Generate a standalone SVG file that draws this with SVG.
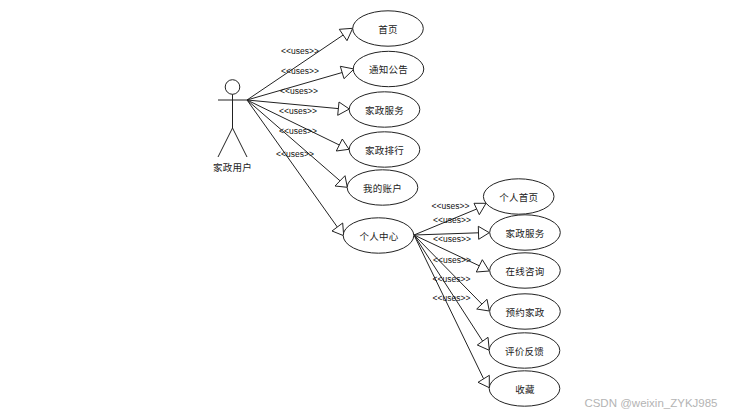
<svg xmlns="http://www.w3.org/2000/svg" width="738" height="415" viewBox="0 0 738 415">
<style>
.l{fill:none;stroke:#222;stroke-width:1}
.h{fill:#fff;stroke:#222;stroke-width:1}
.e{fill:#fff;stroke:#222;stroke-width:1}
.t{font-family:"Noto Sans CJK SC","Liberation Sans",sans-serif;font-size:9.5px;fill:#222;text-anchor:middle;letter-spacing:.2px}
.u{font-family:"Liberation Sans",Arial,sans-serif;font-size:8.5px;fill:#111;text-anchor:middle}
.w{font-family:"Liberation Sans",Arial,sans-serif;font-size:11.5px;fill:#b4b4b4;text-anchor:end}
</style>
<rect width="738" height="415" fill="#fff"/>
<g id="connectors">
<path class="l" d="M247 100L343.2 35M247 100L342.2 72.5M247 100L338.4 108.6M247 100L339.3 145M247 100L340 180.8M247 100L337.3 227"/>
<path class="l" d="M414 235L476.7 209M414 235L478.5 232.8M414 235L479.3 265.8M414 235L481.8 304M414 235L482.6 341.1M414 235L483.6 378.8"/>
<polygon class="h" points="352.7,28.3 339.3,29.3 347,40.7"/>
<polygon class="h" points="354,69 340.3,66.3 344,78.7"/>
<polygon class="h" points="349.3,109 339,102 337.7,115.3"/>
<polygon class="h" points="349,149.3 342.3,139 336.3,151"/>
<polygon class="h" points="347.3,187.3 345,175.7 335,186"/>
<polygon class="h" points="343.7,235.7 342.7,223 332,231"/>
<polygon class="h" points="486,203.3 474,203.3 479.3,214.7"/>
<polygon class="h" points="489.3,232.7 478.3,226.3 478.7,239.3"/>
<polygon class="h" points="489.3,271 482.3,259.7 476.3,272"/>
<polygon class="h" points="489.3,311 487,299.3 476.7,309"/>
<polygon class="h" points="489.3,350.3 488,337.3 477.3,345"/>
<polygon class="h" points="489.3,387.7 489.3,375.3 478,382.3"/>
<g>
<text class="u" x="300" y="54">&lt;&lt;uses&gt;&gt;</text>
<text class="u" x="300" y="74">&lt;&lt;uses&gt;&gt;</text>
<text class="u" x="299" y="94">&lt;&lt;uses&gt;&gt;</text>
<text class="u" x="298" y="114">&lt;&lt;uses&gt;&gt;</text>
<text class="u" x="298" y="133.500">&lt;&lt;uses&gt;&gt;</text>
<text class="u" x="295" y="157">&lt;&lt;uses&gt;&gt;</text>
<text class="u" x="450.500" y="209">&lt;&lt;uses&gt;&gt;</text>
<text class="u" x="452" y="223">&lt;&lt;uses&gt;&gt;</text>
<text class="u" x="452" y="242">&lt;&lt;uses&gt;&gt;</text>
<text class="u" x="452" y="263">&lt;&lt;uses&gt;&gt;</text>
<text class="u" x="451.500" y="282">&lt;&lt;uses&gt;&gt;</text>
<text class="u" x="451.500" y="301">&lt;&lt;uses&gt;&gt;</text>
</g>
</g>
<g id="actor">
<circle class="h" cx="232.500" cy="87" r="7.300"/>
<path class="l" d="M232.500 94.300V128M218 100H247M232.500 128L218 157M232.500 128L247 157"/>
<text class="t" x="232.500" y="171">家政用户</text>
</g>
<g id="n1"><ellipse class="e" cx="388" cy="28.500" rx="35.300" ry="17.700"/><text class="t" x="388" y="32.500">首页</text></g>
<g id="n2"><ellipse class="e" cx="388.500" cy="69" rx="35.300" ry="17.700"/><text class="t" x="388.500" y="73">通知公告</text></g>
<g id="n3"><ellipse class="e" cx="384.500" cy="109.500" rx="35.300" ry="17.700"/><text class="t" x="384.500" y="113.500">家政服务</text></g>
<g id="n4"><ellipse class="e" cx="384.500" cy="149.500" rx="35.300" ry="17.700"/><text class="t" x="384.500" y="153.500">家政排行</text></g>
<g id="n5"><ellipse class="e" cx="382.500" cy="187.500" rx="35.300" ry="17.700"/><text class="t" x="382.500" y="191.500">我的账户</text></g>
<g id="n6"><ellipse class="e" cx="378.500" cy="235.500" rx="35.300" ry="17.700"/><text class="t" x="379" y="239.500">个人中心</text></g>
<g id="n7"><ellipse class="e" cx="518.700" cy="196.500" rx="35.300" ry="17.700"/><text class="t" x="518.700" y="200.500">个人首页</text></g>
<g id="n8"><ellipse class="e" cx="525" cy="232.500" rx="35.300" ry="17.700"/><text class="t" x="525" y="236.500">家政服务</text></g>
<g id="n9"><ellipse class="e" cx="525" cy="270.500" rx="35.300" ry="17.700"/><text class="t" x="525" y="274.500">在线咨询</text></g>
<g id="n10"><ellipse class="e" cx="525" cy="311.500" rx="35.300" ry="17.700"/><text class="t" x="525" y="315.500">预约家政</text></g>
<g id="n11"><ellipse class="e" cx="524.500" cy="350.500" rx="35.300" ry="17.700"/><text class="t" x="524.500" y="354.500">评价反馈</text></g>
<g id="n12"><ellipse class="e" cx="524.500" cy="388.500" rx="35.300" ry="17.700"/><text class="t" x="525" y="392.500">收藏</text></g>
<text class="w" x="717.500" y="406.500">CSDN @weixin_ZYKJ985</text>
</svg>
